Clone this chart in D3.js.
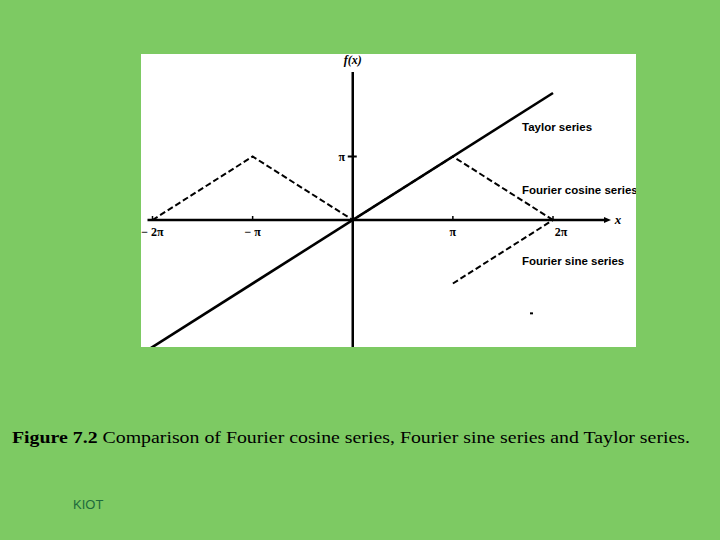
<!DOCTYPE html>
<html><head><meta charset="utf-8">
<script src="https://cdn.jsdelivr.net/npm/d3@7"></script>
<style>body{margin:0;background:#7dca63;} svg{display:block;}</style>
</head><body>
<script>
// values in units of pi
const taylor = [[-2.05, -2.05], [2, 2]];
const cosineSeries = [[-2, 0], [-1, 1], [0, 0], [1, 1], [2, 0]];
const sineSeries = [[1, -1], [2, 0]];
const xTicks = [-2, -1, 1, 2];
const xTickLabels = ["\u2212 2\u03c0", "\u2212 \u03c0", "\u03c0", "2\u03c0"];
const yTicks = [1];
const yTickLabels = ["\u03c0"];
const seriesLabels = ["Taylor series", "Fourier cosine series", "Fourier sine series"];
const seriesLabelY = [1.46, 0.48, -0.65];

const W = 720, H = 540;
const svg = d3.select("body").append("svg").attr("width", W).attr("height", H);
svg.append("rect").attr("width", W).attr("height", H).attr("fill", "#7dca63");

const box = {x: 141, y: 54, w: 495, h: 293};
svg.append("rect").attr("x", box.x).attr("y", box.y).attr("width", box.w).attr("height", box.h).attr("fill", "#fff");
svg.append("clipPath").attr("id", "clip").append("rect").attr("x", box.x).attr("y", box.y).attr("width", box.w).attr("height", box.h);

const x = d3.scaleLinear().domain([-2, 2]).range([152.5, 553]);
const y = d3.scaleLinear().domain([0, 1]).range([220, 156.5]);

const g = svg.append("g").attr("clip-path", "url(#clip)");
const line = d3.line().x(d => x(d[0])).y(d => y(d[1]));

// axes
g.append("line").attr("x1", x(-2.05)).attr("x2", 606).attr("y1", y(0)).attr("y2", y(0)).attr("stroke", "#000").attr("stroke-width", 2.5);
g.append("path").attr("d", `M604,${y(0)-3} L611,${y(0)} L604,${y(0)+3}Z`).attr("fill", "#000");
g.append("line").attr("x1", x(0)).attr("x2", x(0)).attr("y1", 72).attr("y2", 350).attr("stroke", "#000").attr("stroke-width", 2.5);

xTicks.forEach((t, i) => {
  g.append("line").attr("x1", x(t)).attr("x2", x(t)).attr("y1", y(0) - 4).attr("y2", y(0)).attr("stroke", "#000").attr("stroke-width", 1.5);
  g.append("text").attr("x", x(t) + (t === 2 ? 8 : 0)).attr("y", y(0) + 16).attr("text-anchor", "middle")
    .attr("font-family", "Liberation Serif, serif").attr("font-weight", "bold").attr("font-size", 12).text(xTickLabels[i]);
});
yTicks.forEach((t, i) => {
  g.append("line").attr("x1", x(0) - 5).attr("x2", x(0) + 4).attr("y1", y(t)).attr("y2", y(t)).attr("stroke", "#000").attr("stroke-width", 2);
  g.append("text").attr("x", x(0) - 11).attr("y", y(t) + 4).attr("text-anchor", "middle")
    .attr("font-family", "Liberation Serif, serif").attr("font-weight", "bold").attr("font-size", 12).text(yTickLabels[i]);
});
g.append("text").attr("x", x(0)).attr("y", 64).attr("text-anchor", "middle")
  .attr("font-family", "Liberation Serif, serif").attr("font-style", "italic").attr("font-weight", "bold").attr("font-size", 12).text("f(x)");
g.append("text").attr("x", 618).attr("y", y(0) + 4).attr("text-anchor", "middle")
  .attr("font-family", "Liberation Serif, serif").attr("font-style", "italic").attr("font-weight", "bold").attr("font-size", 13).text("x");

// series
g.append("path").attr("d", line(taylor)).attr("fill", "none").attr("stroke", "#000").attr("stroke-width", 2.6);
g.append("path").attr("d", line(cosineSeries)).attr("fill", "none").attr("stroke", "#000").attr("stroke-width", 2).attr("stroke-dasharray", "6,3");
g.append("path").attr("d", line(sineSeries)).attr("fill", "none").attr("stroke", "#000").attr("stroke-width", 2).attr("stroke-dasharray", "6,3");
g.append("line").attr("x1", x(1.77)).attr("x2", x(1.8)).attr("y1", y(-1.47)).attr("y2", y(-1.47)).attr("stroke", "#000").attr("stroke-width", 2);

seriesLabels.forEach((s, i) => {
  g.append("text").attr("x", 522).attr("y", y(seriesLabelY[i]) + 4)
    .attr("font-family", "Liberation Sans Narrow, Liberation Sans, sans-serif").attr("font-weight", "bold").attr("font-size", 11.5)
    .text(s);
});

// caption
const cap = svg.append("text").attr("x", 12).attr("y", 443).attr("font-family", "Liberation Serif, serif").attr("font-size", 17)
  .attr("textLength", 678).attr("lengthAdjust", "spacingAndGlyphs");
cap.append("tspan").attr("font-weight", "bold").text("Figure 7.2 ");
cap.append("tspan").text("Comparison of Fourier cosine series, Fourier sine series and Taylor series.");

svg.append("text").attr("x", 73).attr("y", 509).attr("font-family", "Liberation Sans, Arial, sans-serif").attr("font-size", 13).attr("fill", "#1e6b3c").text("KIOT");
</script>
</body></html>
